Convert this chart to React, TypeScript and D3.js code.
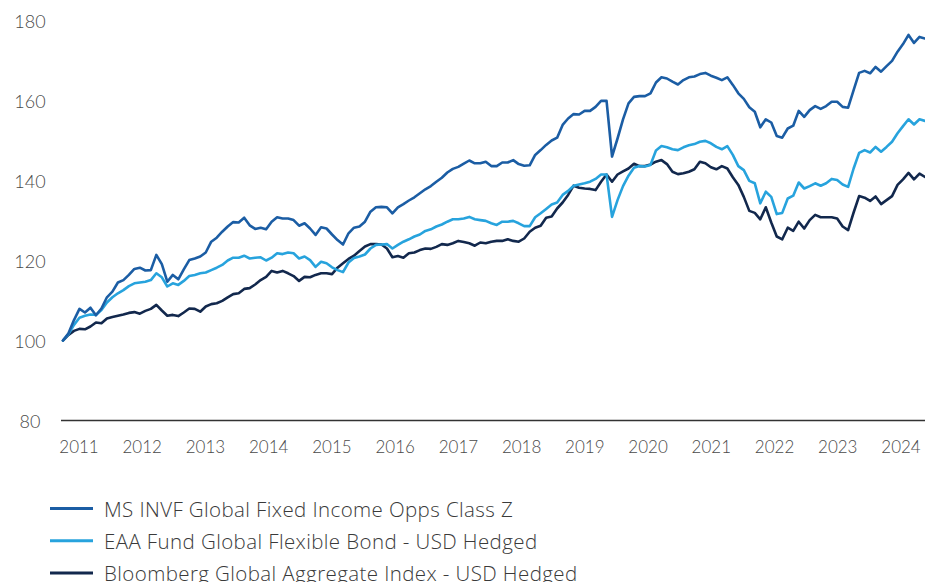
import React, { useEffect } from "react";
import * as d3 from "d3";

// Monthly observations (month index from series start)
const msFund: number[] = [
  100, 101.8, 105.1, 107.9, 107.0, 108.2, 106.3, 108.0, 110.8, 112.2,
  114.5, 115.1, 116.4, 117.9, 118.2, 117.5, 117.6, 121.4, 119.1, 114.7,
  116.4, 115.3, 117.8, 120.1, 120.5, 121.0, 122.0, 124.7, 125.7, 127.2,
  128.5, 129.6, 129.5, 130.7, 128.8, 127.9, 128.2, 127.8, 129.7, 130.8,
  130.5, 130.5, 130.1, 128.7, 129.3, 128.0, 126.4, 128.3, 128.0, 126.5,
  125.1, 124.0, 126.8, 128.2, 128.5, 129.7, 132.2, 133.3, 133.4, 133.3,
  131.8, 133.3, 134.1, 135.0, 135.8, 136.8, 137.8, 138.6, 139.7, 140.7,
  142.0, 142.9, 143.4, 144.2, 145.0, 144.3, 144.3, 144.7, 143.6, 143.6,
  144.5, 144.5, 145.1, 144.1, 143.7, 143.8, 146.4, 147.6, 148.9, 150.0,
  150.7, 153.9, 155.5, 156.6, 156.5, 157.4, 157.4, 158.4, 159.9, 159.9,
  146.0, 150.5, 155.3, 159.3, 160.9, 161.1, 161.1, 161.8, 164.5, 165.8,
  165.5, 164.7, 164.0, 165.1, 165.8, 166.0, 166.6, 166.9, 166.2, 165.7,
  165.1, 165.8, 163.9, 161.8, 160.4, 158.3, 157.2, 153.3, 155.3, 154.5,
  151.1, 150.7, 153.0, 153.7, 157.4, 155.9, 157.6, 158.6, 157.9, 158.6,
  159.7, 159.7, 158.4, 158.2, 162.6, 166.9, 167.4, 166.8, 168.4, 167.2,
  168.6, 169.9, 172.2, 174.1, 176.4, 174.4, 175.9, 175.5,
];

const eaaPeers: number[] = [
  100, 101.6, 103.9, 105.7, 106.2, 106.5, 106.4, 107.6, 109.5, 110.8,
  111.8, 112.6, 113.6, 114.3, 114.5, 114.7, 115.1, 116.8, 115.8, 113.5,
  114.3, 113.9, 114.9, 116.1, 116.4, 116.8, 117.0, 117.6, 118.2, 118.9,
  120.0, 120.7, 120.7, 121.2, 120.5, 120.7, 120.8, 120.0, 120.7, 121.8,
  121.6, 122.0, 121.8, 120.5, 121.0, 120.1, 118.4, 119.7, 119.3, 118.3,
  117.6, 117.1, 119.5, 120.6, 121.0, 121.5, 123.0, 123.9, 124.0, 124.1,
  123.0, 123.9, 124.7, 125.3, 126.0, 126.5, 127.4, 127.8, 128.5, 129.0,
  129.7, 130.3, 130.3, 130.5, 130.9, 130.3, 130.1, 129.9, 129.3, 128.9,
  129.7, 129.7, 129.9, 129.3, 128.6, 128.6, 130.8, 131.8, 132.9, 134.0,
  134.5, 136.4, 137.4, 138.7, 139.0, 139.3, 139.7, 140.4, 141.5, 141.5,
  130.9, 135.1, 138.6, 141.2, 143.2, 143.6, 143.5, 143.9, 147.5, 148.6,
  148.3, 147.8, 147.6, 148.3, 148.8, 149.1, 149.7, 149.9, 149.3, 148.4,
  147.8, 148.6, 146.4, 143.6, 142.6, 139.9, 139.3, 134.3, 137.2, 135.9,
  131.6, 131.9, 135.5, 136.2, 139.5, 138.0, 138.6, 139.3, 138.7, 139.3,
  140.4, 140.1, 139.0, 138.4, 143.0, 146.9, 147.6, 147.0, 148.4, 147.2,
  148.4, 149.7, 151.8, 153.6, 155.3, 154.0, 155.3, 154.9,
];

const bbgIndex: number[] = [
  100, 101.4, 102.4, 102.9, 102.8, 103.5, 104.5, 104.3, 105.5, 105.9,
  106.2, 106.5, 106.9, 107.1, 106.7, 107.4, 107.9, 108.9, 107.5, 106.2,
  106.4, 106.1, 107.0, 108.0, 107.9, 107.2, 108.5, 109.1, 109.3, 109.9,
  110.8, 111.6, 111.8, 112.9, 113.1, 114.0, 115.1, 115.9, 117.4, 117.0,
  117.4, 116.8, 116.1, 114.9, 115.9, 115.8, 116.4, 116.8, 116.8, 116.6,
  118.2, 119.3, 120.4, 121.2, 122.4, 123.5, 124.1, 124.1, 124.0, 123.0,
  120.8, 121.1, 120.7, 121.8, 122.0, 122.6, 123.0, 122.9, 123.4, 124.1,
  123.9, 124.3, 124.9, 124.6, 124.3, 123.7, 124.5, 124.3, 124.7, 124.9,
  124.9, 125.3, 124.9, 124.7, 125.5, 127.2, 128.2, 128.7, 130.7, 131.0,
  133.0, 134.5, 136.4, 138.7, 138.2, 138.0, 137.9, 137.6, 139.7, 141.5,
  139.7, 141.5, 142.3, 143.0, 144.2, 143.6, 143.6, 144.0, 144.7, 145.1,
  144.1, 142.2, 141.6, 141.8, 142.2, 142.8, 144.7, 144.3, 143.3, 142.8,
  143.6, 143.0, 140.8, 138.9, 135.9, 132.4, 131.9, 130.3, 133.3, 129.5,
  126.0, 125.3, 128.2, 127.4, 129.7, 128.0, 130.1, 131.4, 130.8, 130.8,
  130.8, 130.5, 128.5, 127.6, 132.0, 136.1, 135.7, 134.9, 136.0, 134.1,
  135.1, 136.1, 138.9, 140.3, 141.9, 140.3, 141.7, 140.9,
];

const yearLabels: string[] = [
  "2011", "2012", "2013", "2014", "2015", "2016", "2017",
  "2018", "2019", "2020", "2021", "2022", "2023", "2024",
];
const yTicks: number[] = [80, 100, 120, 140, 160, 180];

const seriesNames: string[] = [
  "MS INVF Global Fixed Income Opps Class Z",
  "EAA Fund Global Flexible Bond - USD Hedged",
  "Bloomberg Global Aggregate Index - USD Hedged",
];
const seriesColors: string[] = ["#1b5da4", "#27a3dd", "#12284d"];
const seriesData: number[][] = [msFund, eaaPeers, bbgIndex];

const W = 925;
const H = 582;
const FONT = "Lato, 'Open Sans', 'Noto Sans', sans-serif";
const LEGEND_FONT = "'Open Sans', Lato, 'Noto Sans', sans-serif";

export default function App() {
  useEffect(() => {
    document.body.style.margin = "0";
  }, []);

  const n = msFund.length;
  const x = d3.scaleLinear().domain([0, n - 1]).range([63, 925]);
  const y = d3.scaleLinear().domain([80, 180]).range([420.5, 20.5]);
  const xLab = d3.scalePoint<string>().domain(yearLabels).range([79, 901]);

  const line = d3
    .line<number>()
    .x((_, i) => x(i))
    .y((d) => y(d));

  const drawOrder = [2, 1, 0];

  return (
    <svg
      width={W}
      height={H}
      style={{ display: "block", position: "absolute", left: 0, top: 0, background: "#fff" }}
      fontFamily={FONT}
    >
      {yTicks.map((t) => (
        <text
          key={t}
          x={30}
          y={y(t)}
          textAnchor="middle"
          dominantBaseline="central"
          fontSize={18}
          fontWeight={300}
          fill="#4a4a4a"
        >
          {t}
        </text>
      ))}
      <line x1={61} x2={925} y1={y(80)} y2={y(80)} stroke="#333" strokeWidth={1.3} />
      {yearLabels.map((l) => (
        <text
          key={l}
          x={xLab(l)}
          y={446}
          textAnchor="middle"
          dominantBaseline="central"
          fontSize={17}
          fontWeight={300}
          fill="#4a4a4a"
        >
          {l}
        </text>
      ))}
      {drawOrder.map((k) => (
        <path
          key={k}
          d={line(seriesData[k]) || ""}
          fill="none"
          stroke={seriesColors[k]}
          strokeWidth={2.6}
          strokeLinejoin="round"
          strokeLinecap="round"
        />
      ))}
      {seriesNames.map((name, i) => (
        <g key={name} transform={`translate(0, ${508.5 + i * 32.2})`}>
          <line x1={50} x2={93} y1={0} y2={0} stroke={seriesColors[i]} strokeWidth={3} />
          <text
            x={104}
            y={0}
            dominantBaseline="central"
            fontFamily={LEGEND_FONT}
            fontSize={20.5}
            fontWeight={300}
            letterSpacing={0.4}
            fill="#3a3a3a"
          >
            {name}
          </text>
        </g>
      ))}
    </svg>
  );
}
